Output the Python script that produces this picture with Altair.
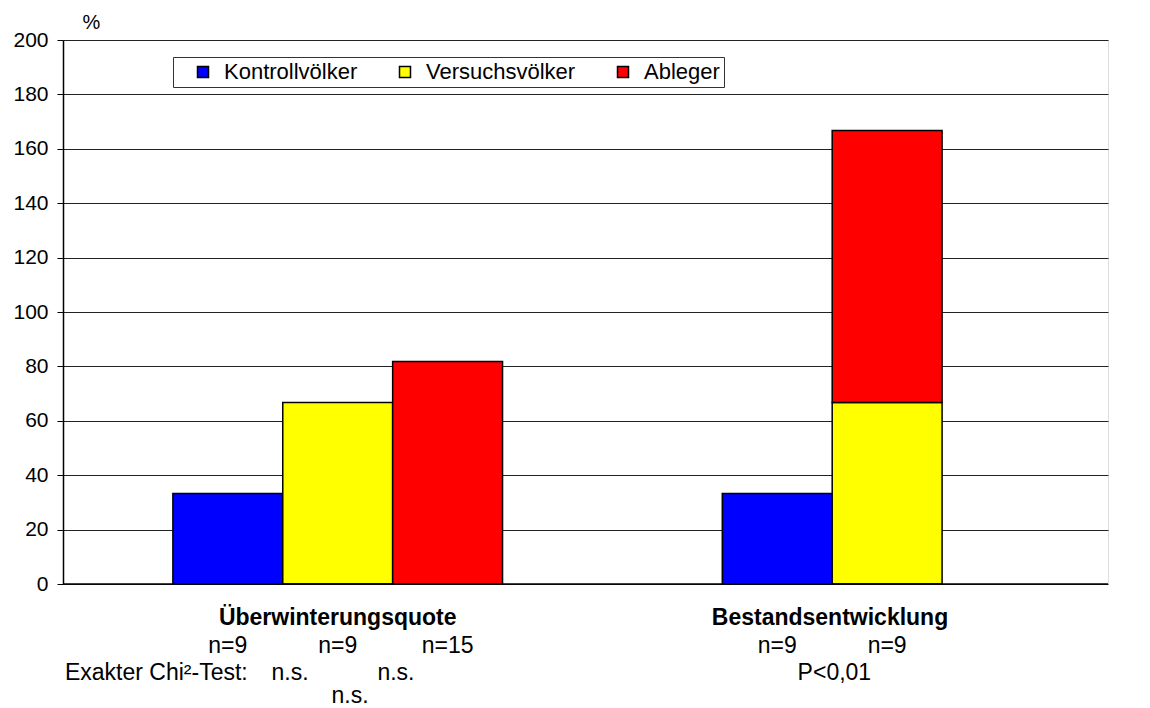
import altair as alt
import pandas as pd

# ---- data ----
series = ["Kontrollvölker", "Versuchsvölker", "Ableger",
          "Kontrollvölker", "Versuchsvölker", "Ableger"]
groups = ["Überwinterungsquote"] * 3 + ["Bestandsentwicklung"] * 3
slot = [0, 1, 2, 5, 6, 6]
y_start = [0, 0, 0, 0, 0, 66.7]
y_end = [33.3, 66.7, 81.8, 33.3, 66.7, 166.7]

series_order = ["Kontrollvölker", "Versuchsvölker", "Ableger"]
series_colors = ["#0000FF", "#FFFF00", "#FF0000"]

group_labels = ["Überwinterungsquote", "Bestandsentwicklung"]
group_label_x = [1.5, 5.98]

n_labels = ["n=9", "n=9", "n=15", "n=9", "n=9"]
n_label_x = [0.5, 1.5, 2.5, 5.5, 6.5]

test_head = ["Exakter Chi²-Test:"]
test_head_x = [-0.982]
test_labels = ["n.s.", "n.s.", "P<0,01"]
test_label_x = [1.066, 2.03, 6.02]

last_labels = ["n.s."]
last_label_x = [1.612]

bars = pd.DataFrame({
    "series": series, "group": groups, "slot": slot,
    "slot_end": [s + 1 for s in slot], "y0": y_start, "y1": y_end,
})

XDOM = [-1.0, 8.51]
xscale = alt.Scale(domain=XDOM, nice=False, zero=False)
yscale = alt.Scale(domain=[0, 200], nice=False)

FONT = "Liberation Sans"
TXT = 23

bar_layer = alt.Chart(bars).mark_bar(stroke="black", strokeWidth=1.5).encode(
    x=alt.X("slot:Q", scale=xscale, axis=None),
    x2="slot_end:Q",
    y=alt.Y("y0:Q", scale=yscale, axis=alt.Axis(
        values=list(range(0, 201, 20)), title="%", titleAngle=0,
        titleX=28, titleY=-18, titleAlign="center", titleBaseline="middle",
        titleFont=FONT, titleFontSize=20, titleFontWeight="normal", titleColor="black",
        labelFont=FONT, labelFontSize=21, labelColor="black", labelPadding=9,
        domainColor="black", domainWidth=1.5, tickColor="black", tickSize=6,
        grid=True, gridColor="#222222", gridWidth=1)),
    y2="y1:Q",
    color=alt.Color("series:N", scale=alt.Scale(domain=series_order, range=series_colors),
                    legend=alt.Legend(
                        title=" ", titleOrient="left", titlePadding=15,
                        titleFontSize=22, titleFont=FONT,
                        orient="none", legendX=110, legendY=17,
                        direction="horizontal", strokeColor="#333333", fillColor="white",
                        padding=4, columnPadding=36, symbolType="square",
                        symbolSize=121, symbolStrokeColor="black", symbolStrokeWidth=1.5,
                        symbolOpacity=1, labelFont=FONT, labelFontSize=22,
                        labelColor="black", labelOffset=10, labelLimit=400,
                        labelExpr="datum.label == 'Ableger' ? 'Ableger       ' : datum.label")),
)

# baseline along the bottom of the plot
base_df = pd.DataFrame({"xa": [XDOM[0]], "xb": [XDOM[1]], "y": [0]})
baseline = alt.Chart(base_df).mark_rule(color="black", strokeWidth=1.5).encode(
    x=alt.X("xa:Q", scale=xscale), x2="xb:Q", y=alt.Y("y:Q", scale=yscale))


def text_layer(labels, xs, ypix, bold=False, align="center"):
    df = pd.DataFrame({"t": labels, "x": xs})
    return alt.Chart(df).mark_text(
        font=FONT, fontSize=TXT, fontWeight="bold" if bold else "normal",
        color="black", align=align, baseline="alphabetic",
    ).encode(x=alt.X("x:Q", scale=xscale), y=alt.value(ypix), text="t:N")


t_groups = text_layer(group_labels, group_label_x, 585, bold=True)
t_n = text_layer(n_labels, n_label_x, 613)
t_head = text_layer(test_head, test_head_x, 640, align="left")
t_test = text_layer(test_labels, test_label_x, 640)
t_last = text_layer(last_labels, last_label_x, 663)

chart = alt.layer(bar_layer, baseline, t_groups, t_n, t_head, t_test, t_last).properties(
    width=1045, height=544,
    padding={"left": 55, "top": 32, "right": 34, "bottom": 124},
    autosize=alt.AutoSizeParams(type="none"),
).configure_view(stroke=None).configure(background="white")

chart.save("out.html", embed_options={"renderer": "svg", "actions": False})
